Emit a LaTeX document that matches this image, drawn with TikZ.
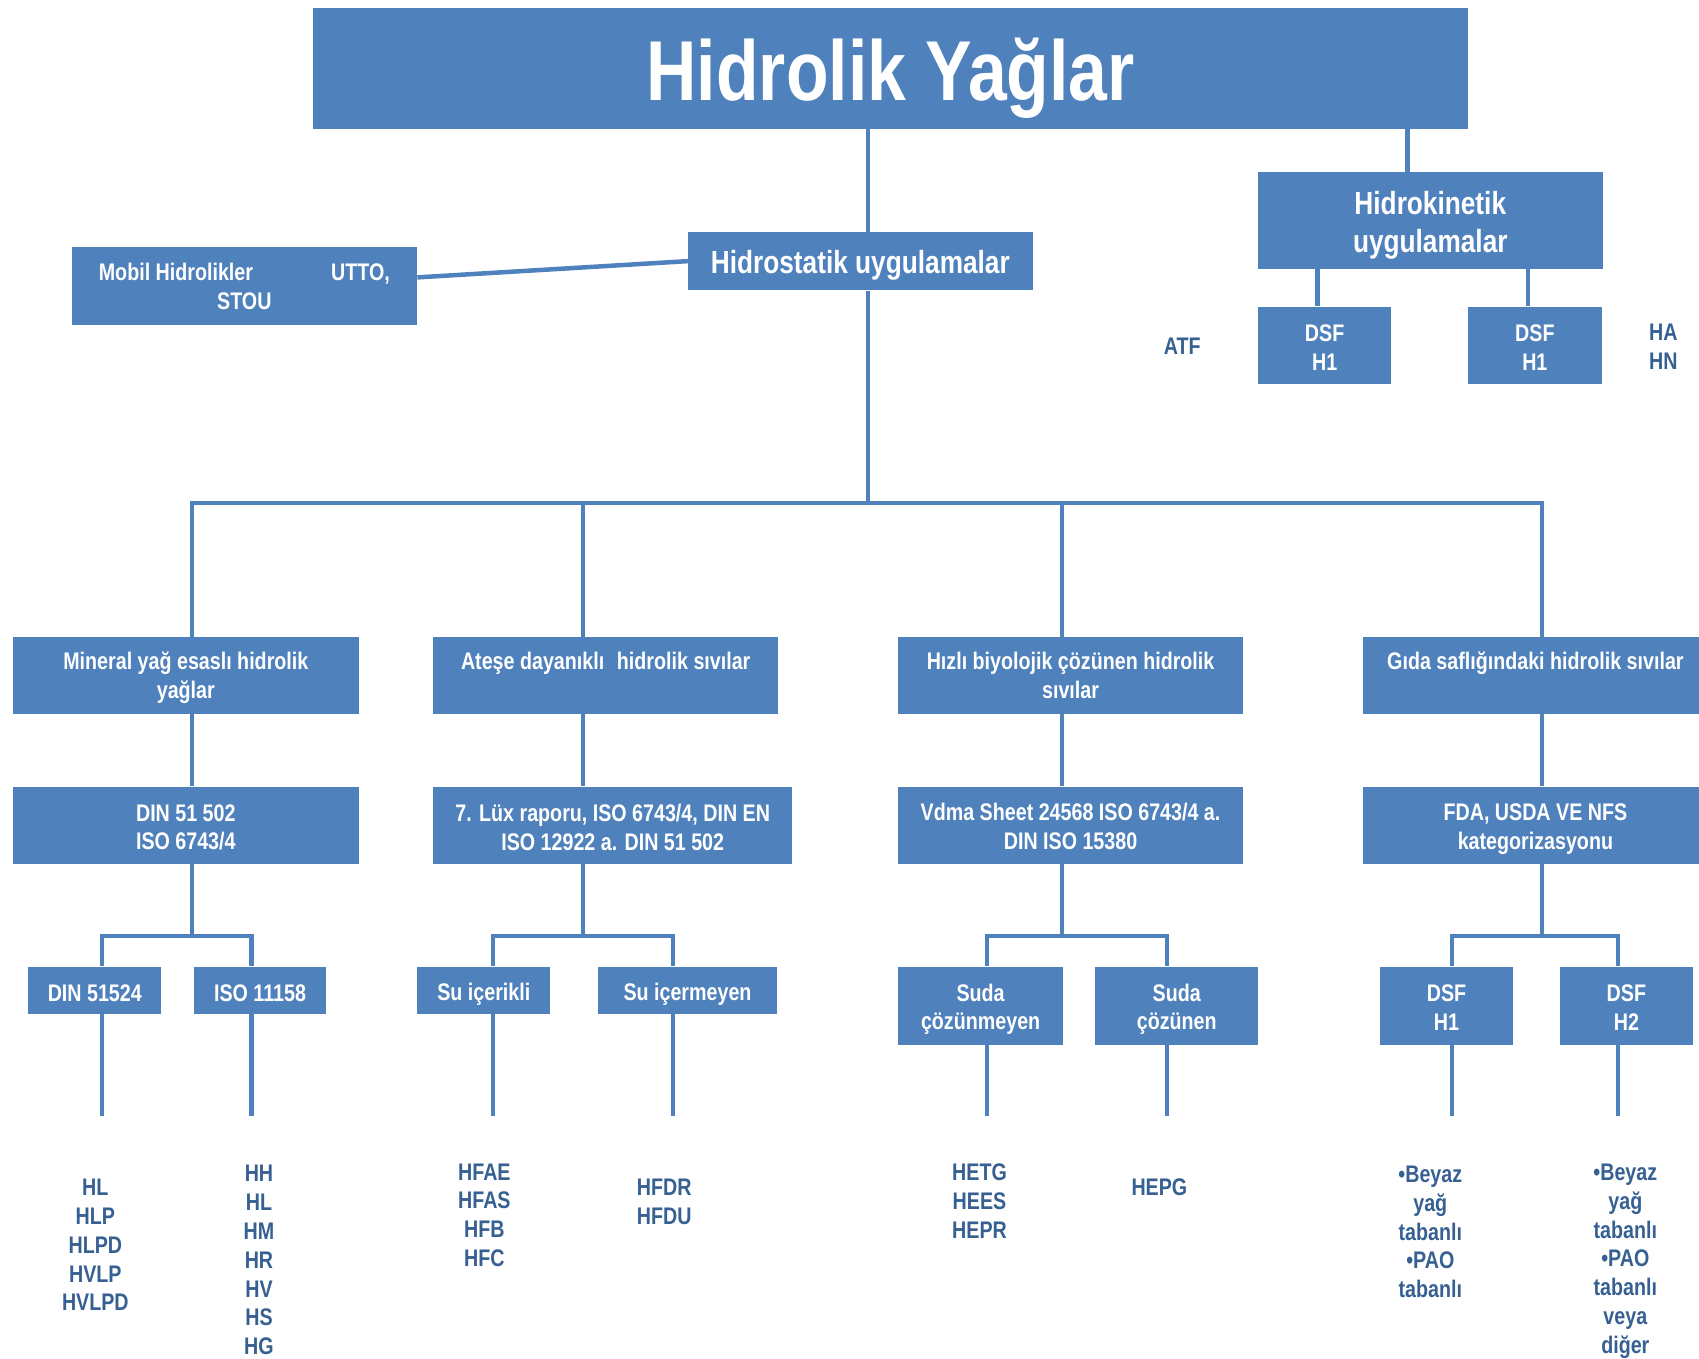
\documentclass[tikz,border=0pt]{standalone}
\usepackage{fontspec}
\newfontfamily\nf{Liberation Sans}[FakeStretch=0.82]
\usetikzlibrary{calc}
\definecolor{boxblue}{HTML}{4F81BD}
\definecolor{txtblue}{HTML}{376092}
\begin{document}
\begin{tikzpicture}[x=1.0836pt,y=-1.0836pt,
  box/.style={fill=boxblue,draw=none,inner sep=0pt},
  sz/.style 2 args={minimum width=#1*1.0836pt,minimum height=#2*1.0836pt},
  bt/.style={text=white,inner sep=0pt,align=center,
    font=\nf\bfseries\fontsize{24}{28.8}\selectfont},
  bigbt/.style={bt,font=\nf\bfseries\fontsize{32}{38}\selectfont},
  lbl/.style={text=txtblue,inner sep=0pt,align=center,
    font=\nf\bfseries\fontsize{24}{28.8}\selectfont},
  conn/.style={draw=boxblue,line width=4.5pt}]
\useasboundingbox (0,0) rectangle (1568,1254);
\clip (0,0) rectangle (1568,1254);

% ---------- top ----------
\node[box,sz={1066}{112}] (title) at (822,63) {};
\node[text=white,inner sep=0pt,anchor=base,
  font=\nf\bfseries\fontsize{85}{85}\selectfont] (ttl) at (822,93) {Hidrolik Yağlar};

\node[box,sz={318}{54}] (hs) at (794,241) {};
\node[bigbt] (hs-t) at ($(hs)+(0,3.5)$) {Hidrostatik uygulamalar};
\node[box,sz={319}{72}] (mobil) at (225.5,264) {};
\node[bt] (mobil-t) at (mobil) {\makebox[291pt]{Mobil Hidrolikler\hfill UTTO,}\\STOU};
\node[box,sz={318}{89}] (hk) at (1320,203.5) {};
\node[bigbt] (hk-t) at ($(hk)+(0,4)$) {Hidrokinetik\\uygulamalar};
\node[box,sz={123}{71}] (hka) at (1222.5,318.5) {};
\node[bt] (hka-t) at ($(hka)+(0,2)$) {DSF\\H1};
\node[box,sz={123}{71}] (hkb) at (1416.5,318.5) {};
\node[bt] (hkb-t) at ($(hkb)+(0,2)$) {DSF\\H1};
\node[lbl] (atf) at (1091,320) {ATF};
\node[lbl] (hahn) at (1535,320) {HA\\HN};

% ---------- level 2 ----------
\node[box,sz={319}{71}] (l2a) at (171.5,623.5) {};
\node[bt] (l2a-t) at ($(l2a)+(0,2)$) {Mineral yağ esaslı hidrolik\\yağlar};
\node[box,sz={318}{71}] (l2b) at (559,623.5) {};
\node[bt] (l2b-t) at ($(l2b)+(0,2)$) {Ateşe dayanıklı\hspace{0.3em} hidrolik sıvılar\\\vphantom{y}};
\node[box,sz={318}{71}] (l2c) at (988,623.5) {};
\node[bt] (l2c-t) at (l2c) {Hızlı biyolojik çözünen hidrolik\\sıvılar};
\node[box,sz={318}{71}] (l2d) at (1417,623.5) {};
\node[bt] (l2d-t) at ($(l2d)+(0,2)$) {Gıda saflığındaki hidrolik sıvılar\\\vphantom{y}};

% ---------- level 3 ----------
\node[box,sz={319}{71}] (l3a) at (171.5,761.5) {};
\node[bt] (l3a-t) at ($(l3a)+(0,2)$) {DIN 51 502\\ISO 6743/4};
\node[box,sz={331}{71}] (l3b) at (565.5,761.5) {};
\node[bt] (l3b-t) at ($(l3b)+(0,2)$) {7. Lüx raporu, ISO 6743/4, DIN EN\\ISO 12922 a. DIN 51 502};
\node[box,sz={318}{71}] (l3c) at (988,761.5) {};
\node[bt] (l3c-t) at ($(l3c)+(0,1)$) {Vdma Sheet 24568 ISO 6743/4 a.\\DIN ISO 15380};
\node[box,sz={318}{71}] (l3d) at (1417,761.5) {};
\node[bt] (l3d-t) at ($(l3d)+(0,4)$) {FDA, USDA VE NFS\\kategorizasyonu};

% ---------- level 4 ----------
\node[box,sz={123}{44}] (a1) at (87.5,914) {};
\node[bt] (a1-t) at ($(a1)+(0,3)$) {DIN 51524};
\node[box,sz={122}{44}] (a2) at (240,914) {};
\node[bt] (a2-t) at ($(a2)+(0,3)$) {ISO 11158};
\node[box,sz={123}{44}] (b1) at (446.5,914) {};
\node[bt] (b1-t) at ($(b1)+(0,4)$) {Su içerikli};
\node[box,sz={165}{44}] (b2) at (634.5,914) {};
\node[bt] (b2-t) at ($(b2)+(0,4)$) {Su içermeyen};
\node[box,sz={152}{72}] (c1) at (905,928) {};
\node[bt] (c1-t) at ($(c1)+(0,3.5)$) {Suda\\çözünmeyen};
\node[box,sz={150}{72}] (c2) at (1086,928) {};
\node[bt] (c2-t) at ($(c2)+(0,3.5)$) {Suda\\çözünen};
\node[box,sz={122}{72}] (d1) at (1335,928) {};
\node[bt] (d1-t) at ($(d1)+(0,2)$) {DSF\\H1};
\node[box,sz={122}{72}] (d2) at (1501,928) {};
\node[bt] (d2-t) at ($(d2)+(0,2)$) {DSF\\H2};

% ---------- bottom labels ----------
\node[lbl] (ta1) at (88,1149) {HL\\HLP\\HLPD\\HVLP\\HVLPD};
\node[lbl] (ta2) at (239,1163) {HH\\HL\\HM\\HR\\HV\\HS\\HG};
\node[lbl] (tb1) at (447,1121.5) {HFAE\\HFAS\\HFB\\HFC};
\node[lbl] (tb2) at (613,1109) {HFDR\\HFDU};
\node[lbl] (tc1) at (904,1108.5) {HETG\\HEES\\HEPR};
\node[lbl] (tc2) at (1070,1096) {HEPG};
\node[lbl] (td1) at (1320,1137) {•Beyaz\\yağ\\tabanlı\\•PAO\\tabanlı};
\node[lbl] (td2) at (1500,1164) {•Beyaz\\yağ\\tabanlı\\•PAO\\tabanlı\\veya\\diğer};

% ---------- coordinates ----------
\coordinate (jt) at (801,464);
\coordinate (jk) at (1299,0);
\coordinate (jka) at (1216,0);
\coordinate (jkb) at (1410,0);
\coordinate (j1) at (177,464);
\coordinate (j2) at (538,464);
\coordinate (j3) at (980,464);
\coordinate (j4) at (1423,464);
\coordinate (k1) at (177,864);
\coordinate (k2) at (538,864);
\coordinate (k3) at (980,864);
\coordinate (k4) at (1423,864);
\coordinate (ba1) at (94,864);   \coordinate (ba2) at (232,864);
\coordinate (bb1) at (455,864);  \coordinate (bb2) at (621,864);
\coordinate (bc1) at (911,864);  \coordinate (bc2) at (1077,864);
\coordinate (bd1) at (1340,864); \coordinate (bd2) at (1493,864);
\coordinate (ea1) at (94,1030);   \coordinate (ea2) at (232,1030);
\coordinate (eb1) at (455,1030);  \coordinate (eb2) at (621,1030);
\coordinate (ec1) at (911,1030);  \coordinate (ec2) at (1077,1030);
\coordinate (ed1) at (1340,1030); \coordinate (ed2) at (1493,1030);

% ---------- connectors ----------
\draw[conn] (title.south -| jt) -- (hs.north -| jt);
\draw[conn] (title.south -| jk) -- (hk.north -| jk);
\draw[conn] (hk.south -| jka) -- (hka.north -| jka);
\draw[conn] (hk.south -| jkb) -- (hkb.north -| jkb);
\draw[conn] ($(mobil.east)+(0,-8)$) -- (hs.west);
\draw[conn] (hs.south -| jt) -- (jt);
\draw[conn] (l2a.north -| j1) -- (j1) -- (j4) -- (l2d.north -| j4);
\draw[conn] (j2) -- (l2b.north -| j2);
\draw[conn] (j3) -- (l2c.north -| j3);
\draw[conn] (l2a.south -| j1) -- (l3a.north -| j1);
\draw[conn] (l2b.south -| j2) -- (l3b.north -| j2);
\draw[conn] (l2c.south -| j3) -- (l3c.north -| j3);
\draw[conn] (l2d.south -| j4) -- (l3d.north -| j4);
\draw[conn] (l3a.south -| k1) -- (k1);
\draw[conn] (l3b.south -| k2) -- (k2);
\draw[conn] (l3c.south -| k3) -- (k3);
\draw[conn] (l3d.south -| k4) -- (k4);
\draw[conn] (a1.north -| ba1) -- (ba1) -- (ba2) -- (a2.north -| ba2);
\draw[conn] (b1.north -| bb1) -- (bb1) -- (bb2) -- (b2.north -| bb2);
\draw[conn] (c1.north -| bc1) -- (bc1) -- (bc2) -- (c2.north -| bc2);
\draw[conn] (d1.north -| bd1) -- (bd1) -- (bd2) -- (d2.north -| bd2);
\draw[conn] (a1.south -| ea1) -- (ea1);
\draw[conn] (a2.south -| ea2) -- (ea2);
\draw[conn] (b1.south -| eb1) -- (eb1);
\draw[conn] (b2.south -| eb2) -- (eb2);
\draw[conn] (c1.south -| ec1) -- (ec1);
\draw[conn] (c2.south -| ec2) -- (ec2);
\draw[conn] (d1.south -| ed1) -- (ed1);
\draw[conn] (d2.south -| ed2) -- (ed2);
\end{tikzpicture}
\end{document}
